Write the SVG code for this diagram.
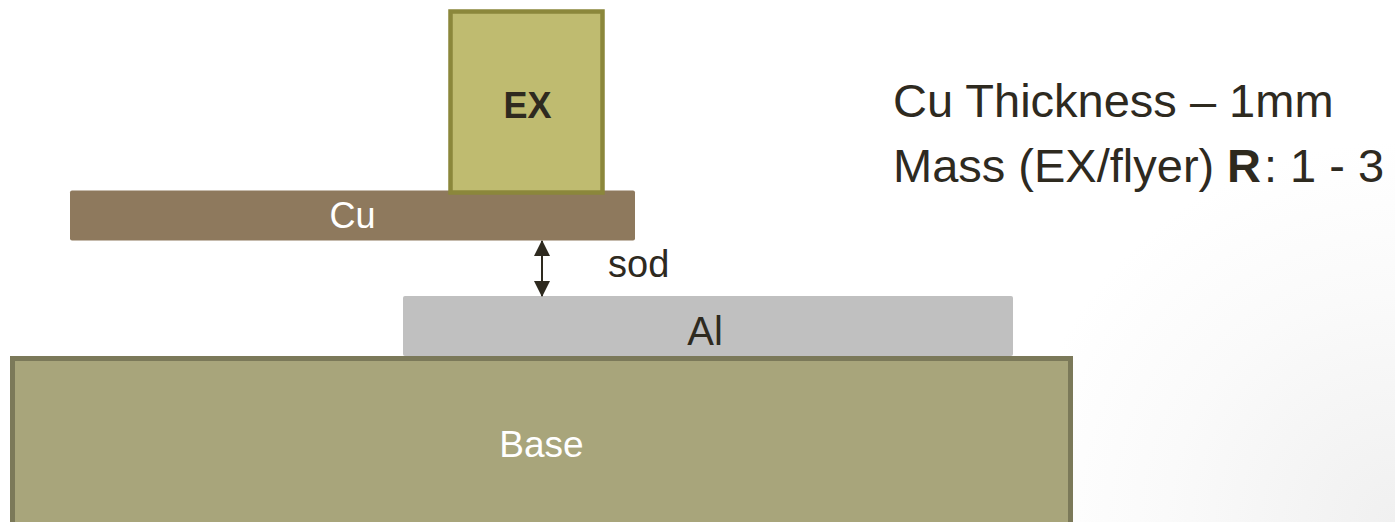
<svg xmlns="http://www.w3.org/2000/svg" width="1395" height="522" viewBox="0 0 1395 522">
<style>
.t{font-family:"Liberation Sans",Arial,sans-serif;}
.dark{fill:#2e2a1f;}
.white{fill:#ffffff;}
.info{font-size:47px;}
</style>
<defs>
<radialGradient id="bg" cx="1395" cy="522" r="380" gradientUnits="userSpaceOnUse">
<stop offset="0" stop-color="#f0f0f0"/>
<stop offset="0.6" stop-color="#fafafa"/>
<stop offset="1" stop-color="#ffffff"/>
</radialGradient>
<marker id="ah" viewBox="0 0 16 16" refX="15" refY="8" markerWidth="16" markerHeight="16" markerUnits="userSpaceOnUse" orient="auto-start-reverse">
<path d="M0,0 L16,8 L0,16 Z" fill="#2e2a1f"/>
</marker>
</defs>
<rect x="0" y="0" width="1395" height="522" fill="url(#bg)"/>
<g id="base">
<rect x="12.5" y="358.5" width="1058" height="170" fill="#a8a57b" stroke="#7b7959" stroke-width="5"/>
<text class="t white" x="541.5" y="457" font-size="37" text-anchor="middle">Base</text>
</g>
<g id="al">
<rect x="403" y="296" width="610" height="60" rx="2" fill="#c0c0c0"/>
<text class="t dark" x="705" y="345" font-size="40" text-anchor="middle">Al</text>
</g>
<g id="cu">
<rect x="70" y="190.5" width="565" height="50" rx="2" fill="#8e795d"/>
<text class="t white" x="352.5" y="228" font-size="36" text-anchor="middle">Cu</text>
</g>
<g id="ex">
<rect x="450.5" y="11.5" width="152" height="181" fill="#bfbb70" stroke="#8b873b" stroke-width="4.5"/>
<text class="t dark" x="527.5" y="118" font-size="36" font-weight="bold" text-anchor="middle">EX</text>
</g>
<g id="connectors">
<line x1="542" y1="241" x2="542" y2="296" stroke="#2e2a1f" stroke-width="2" marker-start="url(#ah)" marker-end="url(#ah)"/>
</g>
<g id="sod-label">
<text class="t dark" x="608" y="277" font-size="38">sod</text>
</g>
<g id="info">
<text class="t dark info" x="893" y="117">Cu Thickness – 1mm</text>
<text class="t dark info" x="893" y="182">Mass (EX/flyer)</text>
<text class="t dark info" x="1227" y="182" font-weight="bold">R</text>
<text class="t dark info" x="1264" y="182">: 1 - 3</text>
</g>
</svg>
